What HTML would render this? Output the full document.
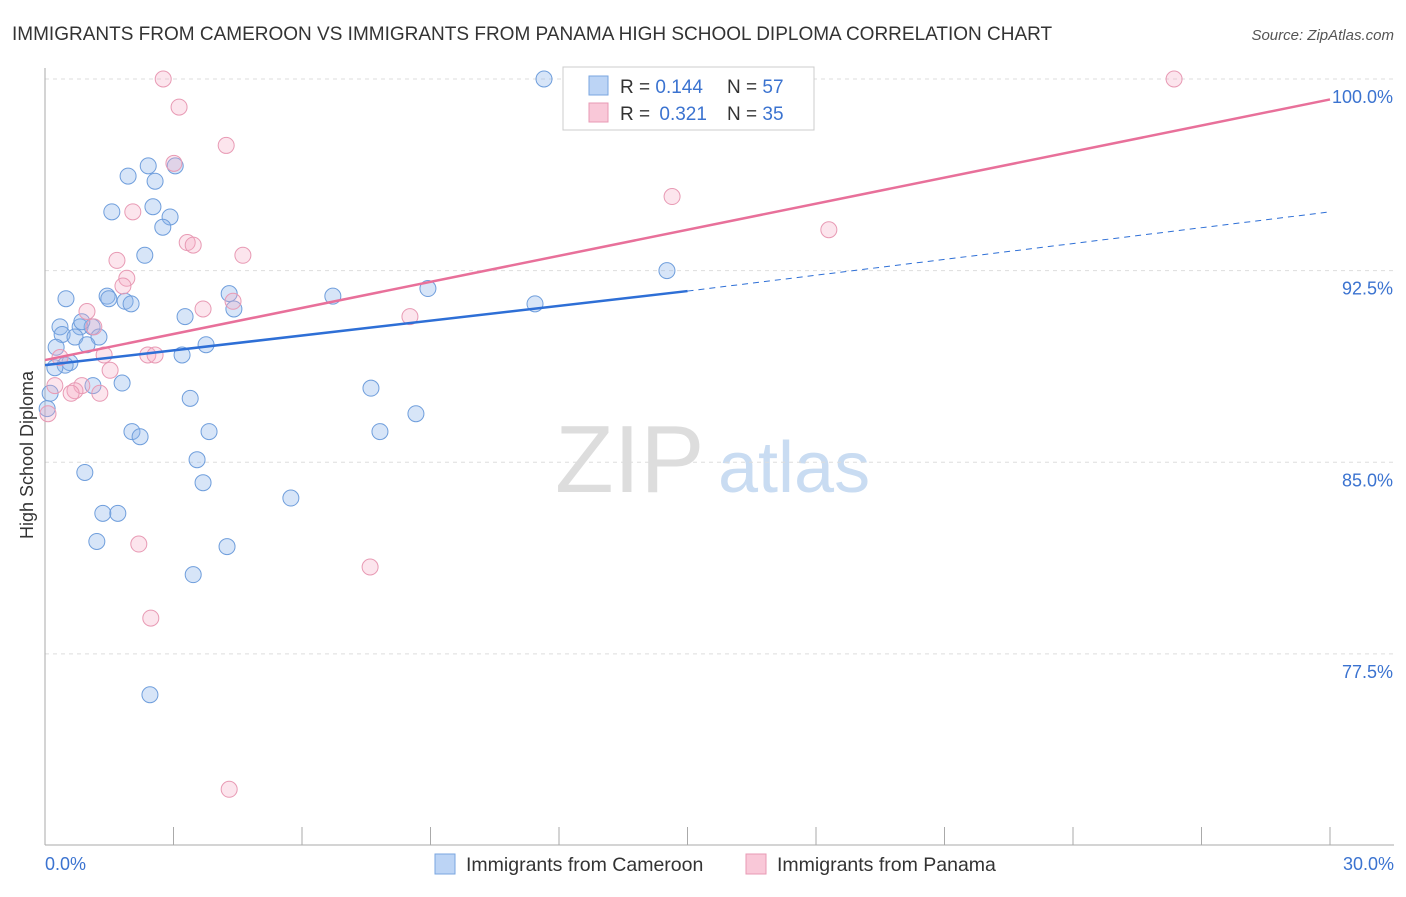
<!DOCTYPE html>
<html><head><meta charset="utf-8">
<style>
body{margin:0;background:#fff;font-family:"Liberation Sans",sans-serif;}
svg text{font-family:"Liberation Sans",sans-serif;}
</style></head>
<body>
<svg id="chart" width="1406" height="892">
<text x="12" y="40" font-size="19" fill="#333">IMMIGRANTS FROM CAMEROON VS IMMIGRANTS FROM PANAMA HIGH SCHOOL DIPLOMA CORRELATION CHART</text>
<text x="1394" y="40" font-size="15" fill="#555" font-style="italic" text-anchor="end">Source: ZipAtlas.com</text>
<text x="33" y="455" font-size="18" fill="#333" transform="rotate(-90 33 455)" text-anchor="middle">High School Diploma</text>
<text x="555" y="492" font-size="96" fill="#ddd" font-family="Liberation Serif">ZIP</text>
<text x="718" y="492" font-size="72" fill="#c9dcf2">atlas</text>
<g id="grid"></g><g id="axes"></g><g id="pts"></g><g id="lines"></g>
<g>
<rect x="563" y="67" width="251" height="63" fill="#fff" stroke="#ccc"/>
<rect x="589" y="76" width="19" height="19" fill="#bcd4f5" stroke="#7aa6e0"/>
<rect x="589" y="103" width="19" height="19" fill="#f9c8d8" stroke="#e89ab4"/>
<text x="620" y="93" font-size="19" fill="#333">R = <tspan fill="#3b73d0">0.144</tspan></text>
<text x="727" y="93" font-size="19" fill="#333">N = <tspan fill="#3b73d0">57</tspan></text>
<text x="620" y="120" font-size="19" fill="#333">R = <tspan fill="#3b73d0" dx="4">0.321</tspan></text>
<text x="727" y="120" font-size="19" fill="#333">N = <tspan fill="#3b73d0">35</tspan></text>
</g>
<g>
<rect x="435" y="854" width="20" height="20" fill="#bcd4f5" stroke="#7aa6e0"/>
<text x="466" y="871" font-size="19.5" fill="#333">Immigrants from Cameroon</text>
<rect x="746" y="854" width="20" height="20" fill="#f9c8d8" stroke="#e89ab4"/>
<text x="777" y="871" font-size="19.5" fill="#333">Immigrants from Panama</text>
</g>
</svg>
<script>
const xTicks=[0,3,6,9,12,15,18,21,24,27,30];
const yTicks=[100,92.5,85,77.5];
const yTickLabels=["100.0%","92.5%","85.0%","77.5%"];
const cameroonX=[11.65,2.41,3.04,1.94,2.57,1.56,2.52,2.92,2.75,2.33,0.49,1.45,1.49,1.87,2.01,0.35,0.82,1.10,0.86,0.40,0.70,1.26,0.98,0.26,0.58,0.47,0.23,3.27,4.30,4.41,3.76,3.20,1.80,1.12,0.12,0.05,3.39,2.03,2.22,3.83,3.55,0.93,3.69,5.74,1.35,1.70,1.21,4.25,3.46,2.45,6.72,8.94,11.44,14.52,7.61,8.66,7.82];
const cameroonY=[100,96.6,96.6,96.2,96.0,94.8,95.0,94.6,94.2,93.1,91.4,91.5,91.4,91.3,91.2,90.3,90.3,90.3,90.5,90.0,89.9,89.9,89.6,89.5,88.9,88.8,88.7,90.7,91.6,91.0,89.6,89.2,88.1,88.0,87.7,87.1,87.5,86.2,86.0,86.2,85.1,84.6,84.2,83.6,83.0,83.0,81.9,81.7,80.6,75.9,91.5,91.8,91.2,92.5,87.9,86.9,86.2];
const panamaX=[2.76,26.36,3.13,4.23,3.01,14.64,2.05,18.30,3.32,3.46,4.62,1.68,1.91,1.82,0.98,4.39,3.69,1.14,8.52,1.38,2.40,2.57,0.35,1.52,0.23,0.86,0.70,0.61,1.28,0.07,2.19,7.59,2.47,4.30];
const panamaY=[100,100,98.9,97.4,96.7,95.4,94.8,94.1,93.6,93.5,93.1,92.9,92.2,91.9,90.9,91.3,91.0,90.3,90.7,89.2,89.2,89.2,89.1,88.6,88.0,88.0,87.8,87.7,87.7,86.9,81.8,80.9,78.9,72.2];
const cameroonTrend=[0,88.8,15,91.7,30,94.8];
const panamaTrend=[0,89.0,30,99.2];
const X0=45,X1=1330,Y100=79,PX=25.55,BOTTOM=845;
const sx=v=>X0+(X1-X0)*v/30, sy=v=>Y100+(100-v)*PX;
const NS="http://www.w3.org/2000/svg";
function mk(tag,attrs,parent){const e=document.createElementNS(NS,tag);for(const k in attrs)e.setAttribute(k,attrs[k]);parent.appendChild(e);return e;}
const grid=document.getElementById('grid'),axes=document.getElementById('axes'),pts=document.getElementById('pts'),lines=document.getElementById('lines');
yTicks.forEach((t,i)=>{
 const l=mk('line',{x1:X0,x2:1394,y1:sy(t),y2:sy(t),stroke:'#ddd','stroke-dasharray':'4,4'},grid);
 
 
 const tx=mk('text',{x:1393,y:sy(t)+24,'font-size':18,fill:'#3b73d0','text-anchor':'end'},axes);
 tx.textContent=yTickLabels[i];
 
 
});
const ax=mk('line',{x1:X0,x2:X0,y1:68,y2:BOTTOM,stroke:'#aaa'},axes);


const bx=mk('line',{x1:X0,x2:1394,y1:BOTTOM,y2:BOTTOM,stroke:'#aaa'},axes);


xTicks.forEach(t=>{
 const l=mk('line',{x1:sx(t),x2:sx(t),y1:BOTTOM-18,y2:BOTTOM,stroke:'#aaa'},axes);
 
 
});
const xl=mk('text',{x:45,y:870,'font-size':18,fill:'#3b73d0'},axes);xl.textContent='0.0%';


const xr=mk('text',{x:1394,y:870,'font-size':18,fill:'#3b73d0','text-anchor':'end'},axes);xr.textContent='30.0%';


cameroonX.forEach((v,i)=>{
 const c=mk('circle',{cx:sx(v),cy:sy(cameroonY[i]),r:8,fill:'rgba(140,180,235,0.35)',stroke:'#6f9edc','stroke-width':1},pts);
 
 
});
panamaX.forEach((v,i)=>{
 const c=mk('circle',{cx:sx(v),cy:sy(panamaY[i]),r:8,fill:'rgba(245,170,195,0.3)',stroke:'#e89ab4','stroke-width':1},pts);
 
 
});
const t=cameroonTrend;
const l1=mk('line',{x1:sx(t[0]),y1:sy(t[1]),x2:sx(t[2]),y2:sy(t[3]),stroke:'#2e6fd6','stroke-width':2.5},lines);


const l2=mk('line',{x1:sx(t[2]),y1:sy(t[3]),x2:sx(t[4]),y2:sy(t[5]),stroke:'#2e6fd6','stroke-width':1,'stroke-dasharray':'6,5'},lines);


const p=panamaTrend;
const l3=mk('line',{x1:sx(p[0]),y1:sy(p[1]),x2:sx(p[2]),y2:sy(p[3]),stroke:'#e8709a','stroke-width':2.5},lines);


</script>
</body></html>
